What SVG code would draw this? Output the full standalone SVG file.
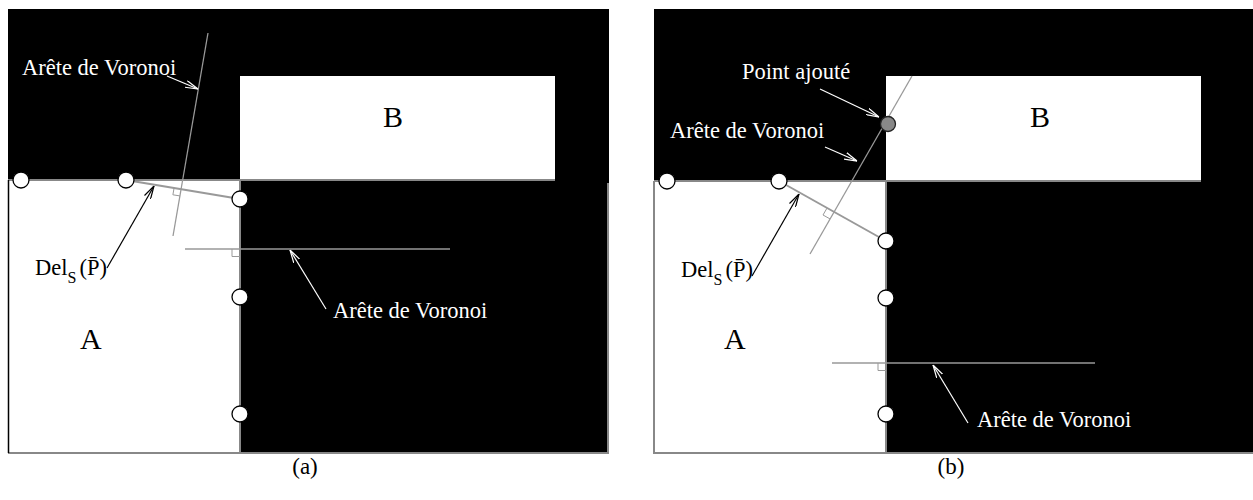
<svg xmlns="http://www.w3.org/2000/svg" width="1253" height="500" viewBox="0 0 1253 500">
<style>
.blk{fill:#000}
.wht{fill:#fff}
.bnd{fill:none;stroke:#888;stroke-width:2}
.pt{fill:#fff;stroke:#000;stroke-width:1.3}
.vor{fill:none;stroke:#999;stroke-width:1.3}
.del{fill:none;stroke:#999;stroke-width:2}
.ra{fill:none;stroke:#999;stroke-width:1}
.aw{fill:none;stroke:#fff;stroke-width:1.2}
.ab{fill:none;stroke:#000;stroke-width:1.2}
.tw{font-family:"Liberation Serif","DejaVu Serif",serif;font-size:22.5px;fill:#fff}
.tb{font-family:"Liberation Serif","DejaVu Serif",serif;font-size:22.5px;fill:#000}
.big{font-family:"Liberation Serif","DejaVu Serif",serif;font-size:30px;fill:#000}
.cap{font-family:"Liberation Serif","DejaVu Serif",serif;font-size:23px;fill:#000;text-anchor:middle}
</style>
<defs>
<marker id="mw" viewBox="0 0 13 8" refX="13" refY="4" markerWidth="13" markerHeight="8" orient="auto" markerUnits="userSpaceOnUse"><path d="M0,0.5 L13,4 L0,7.5" fill="none" stroke="#fff" stroke-width="1.2"/></marker>
<marker id="mb" viewBox="0 0 13 8" refX="13" refY="4" markerWidth="13" markerHeight="8" orient="auto" markerUnits="userSpaceOnUse"><path d="M0,0.5 L13,4 L0,7.5" fill="none" stroke="#000" stroke-width="1.2"/></marker>
</defs>

<!-- Panel (a) -->
<g id="panel-a">
<rect class="blk" x="8" y="9" width="601" height="444"/>
<rect class="wht" x="240" y="76" width="315" height="104"/>
<rect class="wht" x="8" y="180" width="232" height="273"/>
<path class="bnd" d="M8,180 H555 M240,180 V453 H8 M608,183 V453 H240"/>
<line x1="8.5" y1="180" x2="8.5" y2="453" stroke="#000" stroke-width="1.5"/>
</g>
<g id="region-a-A"><text class="big" x="80" y="349">A</text></g>
<g id="region-a-B"><text class="big" x="383" y="127">B</text></g>

<!-- Panel (b) -->
<g id="panel-b">
<rect class="blk" x="654" y="9" width="599" height="444"/>
<rect class="wht" x="886" y="76" width="315" height="105"/>
<rect class="wht" x="654" y="181" width="232" height="272"/>
<path class="bnd" d="M654,181 H1201 M886,181 V453 H654 V181 M886,453 H1253"/>
</g>
<g id="region-b-A"><text class="big" x="724" y="349">A</text></g>
<g id="region-b-B"><text class="big" x="1030" y="127">B</text></g>

<g id="connectors">
<!-- panel a: Delaunay edge -->
<line class="del" x1="126" y1="180" x2="240" y2="199"/>
<!-- panel a: Voronoi edges -->
<line class="vor" x1="208" y1="33" x2="173" y2="236"/>
<polyline class="ra" points="174.1,187.9 172.9,194.8 179.8,195.9"/>
<line class="vor" x1="185" y1="249" x2="450" y2="249"/>
<polyline class="ra" points="232,249 232,256.5 240,256.5"/>
<!-- panel a: annotation arrows -->
<line class="aw" x1="167" y1="76" x2="198" y2="89" marker-end="url(#mw)"/>
<line class="aw" x1="326" y1="309" x2="290" y2="250" marker-end="url(#mw)"/>
<line class="ab" x1="107" y1="268" x2="154" y2="186" marker-end="url(#mb)"/>

<!-- panel b: Delaunay edge -->
<line class="del" x1="779" y1="181" x2="886" y2="241"/>
<!-- panel b: Voronoi edges -->
<line class="vor" x1="912" y1="76" x2="810" y2="254"/>
<polyline class="ra" points="827,208.1 823,215 830,218.9"/>
<line class="vor" x1="832" y1="363" x2="1095" y2="363"/>
<polyline class="ra" points="878,363 878,370.5 886,370.5"/>
<!-- panel b: annotation arrows -->
<line class="aw" x1="820" y1="89" x2="879" y2="117" marker-end="url(#mw)"/>
<line class="aw" x1="825" y1="147" x2="857" y2="161" marker-end="url(#mw)"/>
<line class="aw" x1="968" y1="423" x2="933" y2="365" marker-end="url(#mw)"/>
<line class="ab" x1="752" y1="276" x2="799" y2="194" marker-end="url(#mb)"/>
</g>

<!-- panel a points -->
<g id="pa1"><circle class="pt" cx="21" cy="180" r="8"/></g>
<g id="pa2"><circle class="pt" cx="126" cy="180" r="8"/></g>
<g id="pa3"><circle class="pt" cx="240" cy="199" r="8"/></g>
<g id="pa4"><circle class="pt" cx="240" cy="297" r="8"/></g>
<g id="pa5"><circle class="pt" cx="240" cy="414" r="8"/></g>

<!-- panel b points -->
<g id="pb1"><circle class="pt" cx="667" cy="181" r="8"/></g>
<g id="pb2"><circle class="pt" cx="779" cy="181" r="8"/></g>
<g id="pb3"><circle class="pt" cx="886" cy="241" r="8"/></g>
<g id="pb4"><circle class="pt" cx="886" cy="298" r="8"/></g>
<g id="pb5"><circle class="pt" cx="886" cy="414" r="8"/></g>
<g id="pb-added"><circle cx="888" cy="124" r="7.5" fill="#888" stroke="#222" stroke-width="1.3"/></g>

<!-- labels -->
<g id="label-a-vor1"><text class="tw" x="22" y="75">Arête de Voronoi</text></g>
<g id="label-a-vor2"><text class="tw" x="333" y="318">Arête de Voronoi</text></g>
<g id="label-a-del"><text class="tb" x="35" y="275">Del<tspan font-size="16" dy="8">S</tspan><tspan dx="3" dy="-8">(P̄)</tspan></text></g>

<g id="label-b-pt"><text class="tw" x="742" y="79">Point ajouté</text></g>
<g id="label-b-vor1"><text class="tw" x="670" y="138">Arête de Voronoi</text></g>
<g id="label-b-vor2"><text class="tw" x="977" y="427">Arête de Voronoi</text></g>
<g id="label-b-del"><text class="tb" x="681" y="277">Del<tspan font-size="16" dy="8">S</tspan><tspan dx="3" dy="-8">(P̄)</tspan></text></g>

<g id="caption-a"><text class="cap" x="305" y="474">(a)</text></g>
<g id="caption-b"><text class="cap" x="951" y="474">(b)</text></g>
</svg>
